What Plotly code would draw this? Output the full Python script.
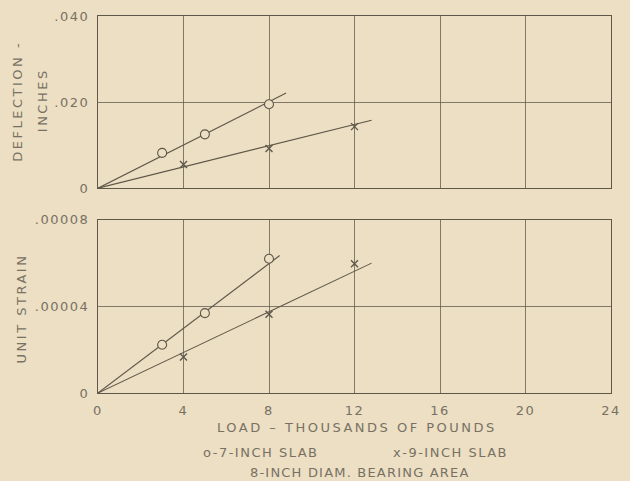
import plotly.graph_objects as go

# ---- data ----
load_7_defl = [3, 5, 8]
defl_7 = [0.0082, 0.0125, 0.0195]
load_9_defl = [4, 8, 12]
defl_9 = [0.0055, 0.0092, 0.0143]

load_7_strain = [3, 5, 8]
strain_7 = [0.0000223, 0.0000369, 0.0000620]
load_9_strain = [4, 8, 12]
strain_9 = [0.0000166, 0.0000364, 0.0000597]

# fitted lines (drawn through origin)
fit_7_defl_x = [0, 8.8]
fit_7_defl_y = [0, 0.0221]
fit_9_defl_x = [0, 12.8]
fit_9_defl_y = [0, 0.0158]
fit_7_strain_x = [0, 8.5]
fit_7_strain_y = [0, 0.0000635]
fit_9_strain_x = [0, 12.8]
fit_9_strain_y = [0, 0.0000600]

x_ticks = [0, 4, 8, 12, 16, 20, 24]
defl_ticks = [0, 0.02, 0.04]
defl_labels = ["0", ".020", ".040"]
strain_ticks = [0, 0.00004, 0.00008]
strain_labels = ["0", ".00004", ".00008"]

BG = "#ecdfc3"
INK = "#5e574a"
TXT = "#787163"
FONT = "DejaVu Sans"


def sp(t, s=2):
    return f'<span style="letter-spacing:{s}px">{t}</span>'


fig = go.Figure()

line_style = dict(color=INK, width=1.1)
circ = dict(symbol="circle", size=9, color=BG, line=dict(width=1.1, color=INK))
cross = dict(symbol="x-thin", size=7, color=INK, line=dict(width=1.4, color=INK))

# top panel
fig.add_trace(go.Scatter(x=fit_7_defl_x, y=fit_7_defl_y, mode="lines", line=line_style,
                         xaxis="x2", yaxis="y2", hoverinfo="skip"))
fig.add_trace(go.Scatter(x=fit_9_defl_x, y=fit_9_defl_y, mode="lines", line=line_style,
                         xaxis="x2", yaxis="y2", hoverinfo="skip"))
fig.add_trace(go.Scatter(x=load_7_defl, y=defl_7, mode="markers", marker=circ,
                         xaxis="x2", yaxis="y2"))
fig.add_trace(go.Scatter(x=load_9_defl, y=defl_9, mode="markers", marker=cross,
                         xaxis="x2", yaxis="y2"))

# bottom panel
fig.add_trace(go.Scatter(x=fit_7_strain_x, y=fit_7_strain_y, mode="lines", line=line_style,
                         hoverinfo="skip"))
fig.add_trace(go.Scatter(x=fit_9_strain_x, y=fit_9_strain_y, mode="lines", line=line_style,
                         hoverinfo="skip"))
fig.add_trace(go.Scatter(x=load_7_strain, y=strain_7, mode="markers", marker=circ))
fig.add_trace(go.Scatter(x=load_9_strain, y=strain_9, mode="markers", marker=cross))

H_PLOT = 381.0
W_PLOT = 523.0


def py(p):
    return (393 - p) / H_PLOT


def px(p):
    return (p - 98) / W_PLOT


axis_common = dict(showline=True, mirror=True, linecolor=INK, linewidth=1.2,
                   showgrid=True, gridcolor="rgba(94,87,74,0.75)", gridwidth=0.8,
                   zeroline=False, ticks="", tickfont=dict(family=FONT, size=13, color=TXT))

fig.update_layout(
    width=630, height=481,
    margin=dict(l=98, r=9, t=12, b=88),
    paper_bgcolor=BG, plot_bgcolor=BG,
    showlegend=False,
    font=dict(family=FONT, color=TXT),
    xaxis=dict(range=[0, 24], tickvals=x_ticks, ticktext=[sp(str(v), 1.5) for v in x_ticks],
               anchor="y", ticklabelstandoff=5, **axis_common),
    yaxis=dict(range=[0, 0.00008], tickvals=strain_ticks, ticktext=[sp(t, 1.5) for t in strain_labels],
               domain=[0, py(218)], anchor="x", ticklabelstandoff=5, **axis_common),
    xaxis2=dict(range=[0, 24], tickvals=x_ticks, showticklabels=False, anchor="y2", **axis_common),
    yaxis2=dict(range=[0, 0.04], tickvals=defl_ticks, ticktext=[sp(t, 1.5) for t in defl_labels],
                domain=[py(186), 1], anchor="x2", ticklabelstandoff=5, **axis_common),
)

ann_font = dict(family=FONT, size=13, color=TXT)


def note(text, x, y, angle=0):
    fig.add_annotation(text=text, xref="paper", yref="paper", x=px(x), y=py(y),
                       xanchor="center", yanchor="middle", showarrow=False,
                       textangle=angle, font=ann_font)


note(sp("LOAD – THOUSANDS OF POUNDS", 2.5), 362, 428)
note(sp("o-7-INCH SLAB", 1.5), 264, 453)
note(sp("x-9-INCH SLAB", 1.5), 457, 453)
note(sp("8-INCH DIAM. BEARING AREA", 1.2), 365, 473)
note(sp("DEFLECTION -", 2.5), 16, 98, -90)
note(sp("INCHES", 2.5), 41, 97, -90)
note(sp("UNIT STRAIN", 2.5), 20, 307, -90)

fig.write_html("out.html")
